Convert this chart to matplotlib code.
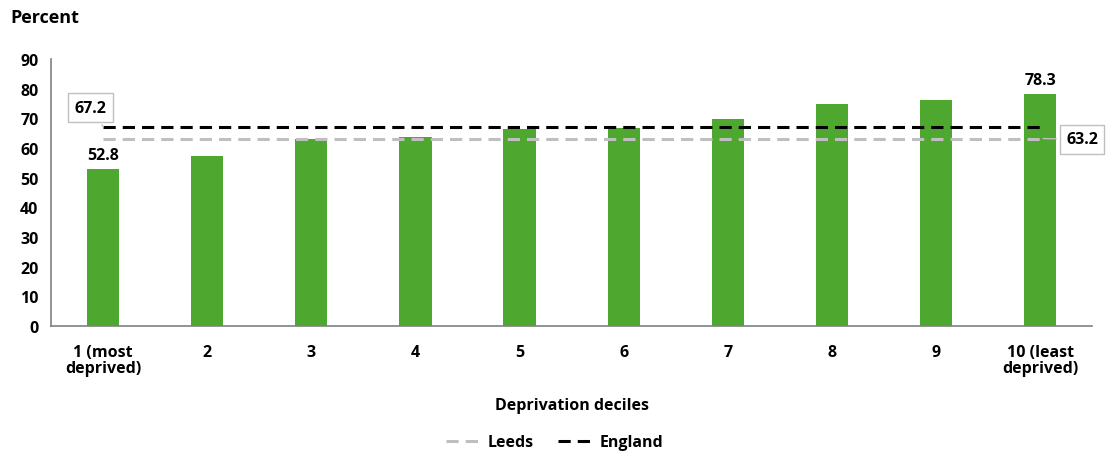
import matplotlib.pyplot as plt
import numpy as np

plt.rcParams['font.family'] = ['Open Sans', 'DejaVu Sans']
plt.rcParams['font.weight'] = 'bold'

categories = ["1 (most\ndeprived)", "2", "3", "4", "5", "6", "7", "8", "9",
              "10 (least\ndeprived)"]
values = [52.8, 57.3, 63.0, 63.6, 66.3, 66.6, 69.8, 74.7, 76.2, 78.3]
leeds = 63.2
england = 67.2

GREEN = "#4ea72e"
FS = 11.5

fig = plt.figure(figsize=(11.09, 4.52), dpi=100)
ax = fig.add_axes([0.046, 0.277, 0.939, 0.59])

x = np.arange(len(categories))
ax.bar(x, values, width=0.31, color=GREEN, zorder=2)

ax.plot([x[0], x[-1]], [leeds] * 2, color="#bfbfbf", lw=2.2,
        dashes=(4, 2.3), label="Leeds", zorder=3)
ax.plot([x[0], x[-1]], [england] * 2, color="black", lw=2.2,
        dashes=(4, 2.3), label="England", zorder=3)

ax.set_xlim(-0.5, len(categories) - 0.5)
ax.set_ylim(0, 90)
ax.set_yticks(range(0, 91, 10))
ax.set_xticks(x)
ax.set_xticklabels(categories, fontsize=FS, fontweight="bold", linespacing=1.05)
ax.tick_params(axis="y", labelsize=FS, length=0, pad=9)
ax.tick_params(axis="x", length=0, pad=13)
for lab in ax.get_yticklabels():
    lab.set_fontweight("bold")

for s in ["top", "right"]:
    ax.spines[s].set_visible(False)
for s in ["left", "bottom"]:
    ax.spines[s].set_color("#808080")
    ax.spines[s].set_linewidth(1.2)

# value labels for end bars
ax.text(x[0], values[0] + 2, f"{values[0]}", ha="center", va="bottom",
        fontsize=FS, fontweight="bold")
ax.text(x[-1], values[-1] + 2, f"{values[-1]}", ha="center", va="bottom",
        fontsize=FS, fontweight="bold")

box = dict(boxstyle="square,pad=0.4", fc="white", ec="#bfbfbf", lw=1)
ax.annotate(f"{england}", xy=(x[0], england), xytext=(-0.12, 73.6),
            ha="center", va="center", fontsize=FS, fontweight="bold",
            bbox=box, arrowprops=dict(arrowstyle="-", color="#bfbfbf", lw=1),
            zorder=4)
ax.annotate(f"{leeds}", xy=(x[-1], leeds), xytext=(9.4, 63.0),
            ha="center", va="center", fontsize=FS, fontweight="bold",
            bbox=box, arrowprops=dict(arrowstyle="-", color="#bfbfbf", lw=1),
            zorder=4)

ax.set_xlabel("Deprivation deciles", fontsize=FS, fontweight="bold",
              labelpad=15)
fig.text(0.009, 0.96, "Percent", fontsize=13, fontweight="bold",
         ha="left", va="center")

fig.legend(loc="lower center", bbox_to_anchor=(0.5, -0.03), ncol=2,
           frameon=False, handlelength=2.0, handletextpad=0.6,
           columnspacing=1.5, prop={"weight": "bold", "size": FS})

fig.savefig("out.png", dpi=100)
